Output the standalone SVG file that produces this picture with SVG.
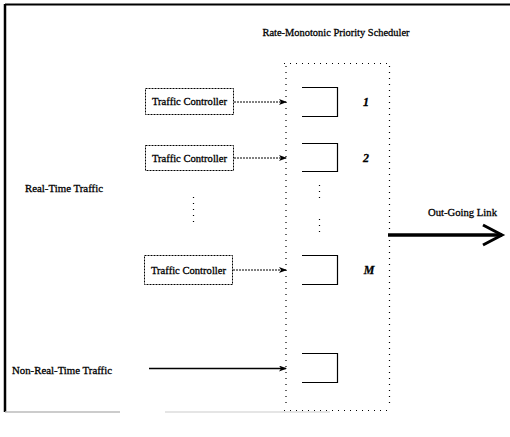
<svg xmlns="http://www.w3.org/2000/svg" width="510" height="437" viewBox="0 0 510 437">
<style>
text{font-family:"Liberation Serif","Times New Roman",serif;font-size:11px;fill:#000;stroke:#000;stroke-width:0.3}
.ctl{fill:#fff;stroke:#000;stroke-width:1;stroke-dasharray:2,1}
.q{fill:none;stroke:#000;stroke-width:1.2}
.dot{fill:none;stroke:#000;stroke-width:1.2;stroke-dasharray:1,5}
.carrow{fill:none;stroke:#000;stroke-width:1;stroke-dasharray:2,1}
.lbl{font-style:italic;font-weight:bold;font-size:12px}
</style>
<defs>
<marker id="ah" markerWidth="8" markerHeight="6" refX="7" refY="3" orient="auto" markerUnits="userSpaceOnUse">
<path d="M0,0 L8,3 L0,6 L2,3 Z" fill="#000"/>
</marker>
</defs>
<rect width="510" height="437" fill="#fff"/>
<g id="frame">
<line x1="5" y1="4.5" x2="510" y2="4.5" stroke="#000" stroke-width="2"/>
<line x1="5" y1="4" x2="5" y2="412" stroke="#000" stroke-width="2.5"/>
<line x1="5" y1="412" x2="120" y2="412" stroke="#bbb" stroke-width="1.5"/>
<line x1="165" y1="412" x2="330" y2="412" stroke="#ddd" stroke-width="1.5"/>
</g>
<g id="scheduler">
<text x="336" y="36" text-anchor="middle" textLength="147" lengthAdjust="spacingAndGlyphs">Rate-Monotonic Priority Scheduler</text>
<line class="dot" x1="284" y1="63.5" x2="390" y2="63.5" stroke-dasharray="2,2"/>
<line class="dot" x1="284" y1="410.5" x2="390" y2="410.5" stroke-dasharray="2,2"/>
<line class="dot" x1="286" y1="66" x2="286" y2="408"/>
<line class="dot" x1="389.5" y1="66" x2="389.5" y2="408" stroke-dasharray="1,4"/>
<line class="dot" x1="319.5" y1="185" x2="319.5" y2="200" stroke-dasharray="1,4"/>
<line class="dot" x1="319.5" y1="219" x2="319.5" y2="235" stroke-dasharray="1,4"/>
</g>
<g id="queue1">
<path class="q" d="M302,87.5 H337.5 V116.5 H302"/>
<text class="lbl" x="366" y="106" text-anchor="middle">1</text>
</g>
<g id="queue2">
<path class="q" d="M302,143.5 H337.5 V171.5 H302"/>
<text class="lbl" x="366" y="162" text-anchor="middle">2</text>
</g>
<g id="queueM">
<path class="q" d="M302,255.5 H337.5 V284.5 H302"/>
<text class="lbl" x="369" y="274" text-anchor="middle">M</text>
</g>
<g id="queueNRT">
<path class="q" d="M302,353.5 H337.5 V382.5 H302"/>
</g>
<g id="controller1">
<rect class="ctl" x="145.5" y="88.5" width="88" height="26"/>
<text x="189.5" y="105" text-anchor="middle" textLength="75" lengthAdjust="spacingAndGlyphs">Traffic Controller</text>
</g>
<g id="controller2">
<rect class="ctl" x="145.5" y="145.5" width="88" height="25"/>
<text x="189.5" y="162" text-anchor="middle" textLength="75" lengthAdjust="spacingAndGlyphs">Traffic Controller</text>
</g>
<g id="controller3">
<rect class="ctl" x="144.5" y="255.5" width="88" height="29"/>
<text x="188.5" y="274" text-anchor="middle" textLength="75" lengthAdjust="spacingAndGlyphs">Traffic Controller</text>
</g>
<g id="labels">
<text x="25" y="192" textLength="78" lengthAdjust="spacingAndGlyphs">Real-Time Traffic</text>
<text x="12" y="374" textLength="100" lengthAdjust="spacingAndGlyphs">Non-Real-Time Traffic</text>
<text x="428" y="216" textLength="69" lengthAdjust="spacingAndGlyphs">Out-Going Link</text>
<line class="dot" x1="193.5" y1="197" x2="193.5" y2="224" stroke-dasharray="1,3"/>
</g>
<g id="connectors">
<line class="carrow" x1="234" y1="102" x2="286" y2="102" marker-end="url(#ah)"/>
<line class="carrow" x1="234" y1="158" x2="286" y2="158" marker-end="url(#ah)"/>
<line class="carrow" x1="233" y1="270" x2="286" y2="270" marker-end="url(#ah)"/>
<line x1="149" y1="368.5" x2="286" y2="368.5" stroke="#000" stroke-width="1.3" marker-end="url(#ah)"/>
<line x1="388" y1="235" x2="502" y2="235" stroke="#000" stroke-width="3.5"/>
<path d="M483,225 L502,235 L483,245" fill="none" stroke="#000" stroke-width="3"/>
</g>
</svg>
